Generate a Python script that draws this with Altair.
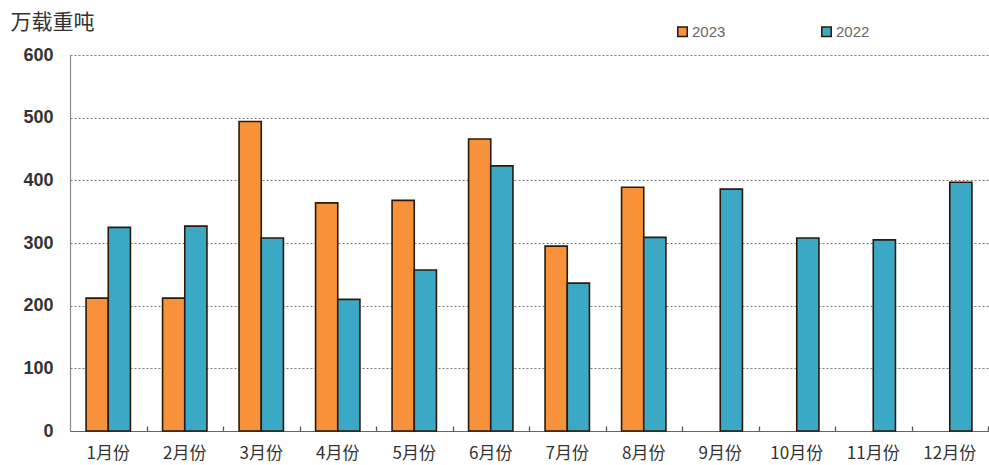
import altair as alt
import pandas as pd

months = ["1月份", "2月份", "3月份", "4月份", "5月份", "6月份",
          "7月份", "8月份", "9月份", "10月份", "11月份", "12月份"]
values_2023 = [212, 212, 494, 364, 368, 466, 295, 389]
values_2022 = [325, 327, 308, 210, 257, 423, 236, 309, 386, 308, 305, 397]
series = ["2023", "2022"]
colors = ["#F7923A", "#3BA8C5"]
y_ticks = [0, 100, 200, 300, 400, 500, 600]

PLOT_W, PLOT_H = 918, 376
# inner padding plus both outer paddings add up to one step, so step = width / n
STEP = PLOT_W / len(months)

rows = []
for m, v in zip(months, values_2023):
    rows.append({"month": m, "year": "2023", "value": v})
for m, v in zip(months, values_2022):
    rows.append({"month": m, "year": "2022", "value": v})
df = pd.DataFrame(rows)

x_scale = alt.Scale(domain=months, paddingInner=0.42, paddingOuter=0.21)

bars = alt.Chart(df).mark_bar(stroke="#2a1a0a", strokeWidth=1.6).encode(
    x=alt.X("month:N", scale=x_scale, sort=months, title=None,
            axis=alt.Axis(orient="bottom", labelAngle=0,
                          labelFont="Noto Sans CJK SC",
                          labelFontSize=17, labelColor="#333333",
                          labelPadding=14, ticks=False, domain=True,
                          domainColor="#666666", domainWidth=1.2,
                          grid=False)),
    xOffset=alt.XOffset("year:N", scale=alt.Scale(domain=series, padding=0)),
    y=alt.Y("value:Q", scale=alt.Scale(domain=[0, 600], nice=False),
            title="万载重吨",
            axis=alt.Axis(values=y_ticks, labelFont="Liberation Sans",
                          labelFontSize=18, labelColor="#333333",
                          labelFontWeight="bold", labelPadding=17,
                          ticks=False, domain=True, domainColor="#888888",
                          domainWidth=1.2, grid=True, gridColor="#777777",
                          gridDash=[2, 2], gridWidth=1,
                          titleAngle=0, titleX=-60, titleY=-33,
                          titleAlign="left", titleBaseline="middle",
                          titleFont="Noto Sans CJK SC", titleFontSize=21,
                          titleFontWeight="normal", titleColor="#333333")),
    color=alt.Color("year:N", scale=alt.Scale(domain=series, range=colors),
                    legend=alt.Legend(title=None, orient="none",
                                      direction="horizontal",
                                      legendX=605, legendY=-31,
                                      symbolType="square", symbolSize=90,
                                      symbolStrokeColor="#2a1a0a",
                                      symbolStrokeWidth=1.5,
                                      labelFont="Liberation Sans",
                                      labelFontSize=15, labelColor="#666666",
                                      labelOffset=2, columnPadding=92)),
)

# small inward ticks on the baseline, halfway between month groups
ticks = alt.Chart(df).mark_bar(opacity=0).encode(
    x=alt.X("month:N", scale=x_scale, sort=months, title=None,
            axis=alt.Axis(orient="top", labels=False, domain=False,
                          ticks=True, tickSize=5, tickOffset=STEP / 2,
                          offset=-PLOT_H, tickColor="#555555",
                          tickWidth=1.3, grid=False, zindex=1)),
    y=alt.Y("value:Q"),
)

chart = alt.layer(bars, ticks).resolve_axis(x="independent").properties(
    width=PLOT_W,
    height=PLOT_H,
    autosize=alt.AutoSizeParams(type="none"),
    padding={"left": 70, "top": 55, "right": 1, "bottom": 34},
).configure_view(stroke=None)

chart.save("out.html", embed_options={"renderer": "svg", "actions": False})
